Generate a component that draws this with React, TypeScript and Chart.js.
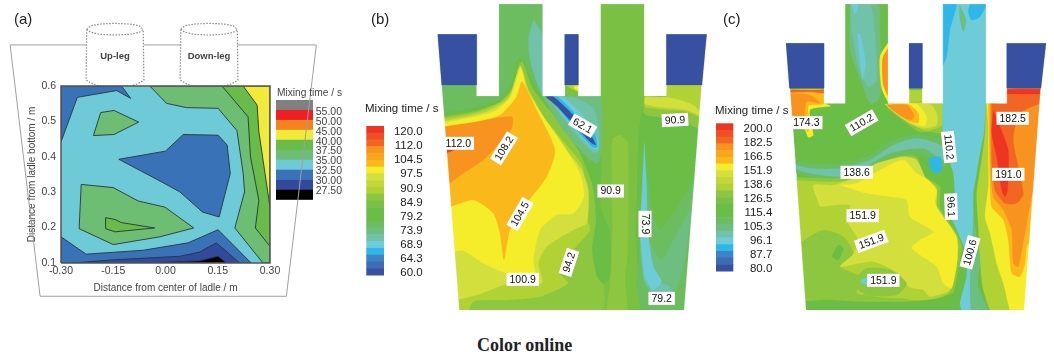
import React, { useEffect, useRef } from "react";
import { Chart, registerables } from "chart.js";
Chart.register(...registerables);

type P = [number, number];

// ---------- Shared colour names (contour levels) ----------
const R0 = "#ee3524", R1 = "#f26522", O = "#f7931e", A = "#fbb81a", Y = "#f5ec2a", LY = "#d3df3c", L = "#b0d235",
  G1 = "#8dc63f", G2 = "#7ac143", G3 = "#6abd45", G4 = "#6bbd5f", G5 = "#6ebe80", T1 = "#70c2a8", T2 = "#6ecbd8",
  S = "#2fb7ea", B1 = "#3c85c5", B2 = "#3b6cb4", B3 = "#3750a2", W = "#ffffff";

// ---------- Panel (a): metres ----------
const aXTicks = [-0.3, -0.15, 0, 0.15, 0.3];
const aLegendLevels = ["55.00", "50.00", "45.00", "40.00", "37.50", "35.00", "32.50", "30.00", "27.50"];
const aLegendColors = ["#808080", "#ee2024", "#f58220", "#f2ea3a", "#69bb4a", "#6dbd72", "#6ecad6", "#3a72b8", "#33499d", "#000000"];
const aPlot: P[] = [[-0.3, 0.1], [0.3, 0.1], [0.3, 0.6], [-0.3, 0.6], [-0.3, 0.1]];
const aTopLeftBlue: P[] = [[-0.3, 0.6], [-0.126, 0.6], [-0.1, 0.565], [-0.14, 0.587], [-0.253, 0.568], [-0.3, 0.442]];
const aUpperGreen: P[] = [[-0.186, 0.525], [-0.148, 0.531], [-0.077, 0.498], [-0.148, 0.463], [-0.207, 0.46]];
const aRightGreen: P[] = [[-0.045, 0.6], [0.003, 0.551], [0.06, 0.539], [0.151, 0.537], [0.205, 0.474], [0.223, 0.353], [0.227, 0.301], [0.199, 0.199], [0.28, 0.1], [0.3, 0.1], [0.3, 0.6]];
const aRightGreen2: P[] = [[0.162, 0.6], [0.237, 0.513], [0.244, 0.4], [0.268, 0.277], [0.258, 0.199], [0.3, 0.147], [0.3, 0.6]];
const aRightYellow: P[] = [[0.223, 0.6], [0.263, 0.546], [0.268, 0.471], [0.3, 0.258], [0.3, 0.6]];
const aCenterBlue: P[] = [[-0.134, 0.393], [0, 0.416], [0.051, 0.463], [0.151, 0.461], [0.177, 0.433], [0.186, 0.353], [0.154, 0.23], [0.106, 0.244], [0.041, 0.301], [-0.011, 0.329]];
const aLowerGreen: P[] = [[-0.242, 0.322], [-0.15, 0.313], [-0.078, 0.275], [-0.002, 0.258], [0.081, 0.199], [-0.016, 0.174], [-0.15, 0.152], [-0.248, 0.197]];
const aLowerGreen2: P[] = [[-0.172, 0.228], [-0.145, 0.223], [-0.126, 0.214], [-0.031, 0.199], [-0.145, 0.188], [-0.172, 0.197]];
const aBottomBlue: P[] = [[-0.3, 0.174], [-0.228, 0.125], [-0.064, 0.136], [0.065, 0.157], [0.151, 0.194], [0.246, 0.1], [-0.3, 0.1]];
const aBottomBlue2: P[] = [[-0.269, 0.1], [-0.15, 0.109], [0.041, 0.119], [0.098, 0.131], [0.146, 0.157], [0.213, 0.1]];
const aBottomBlack: P[] = [[-0.064, 0.1], [0.098, 0.106], [0.151, 0.119], [0.175, 0.1]];
const aLadleLeft: P[] = [[-0.228, 0.716], [-0.446, 0.716], [-0.36, 0.006], [0.347, 0.006], [0.433, 0.716], [0.206, 0.716]];
const aLadleMid: P[] = [[-0.062, 0.716], [0.044, 0.716]];
const aUpRim: P[] = [[-0.226, 0.76], [-0.215, 0.77], [-0.188, 0.775], [-0.145, 0.777], [-0.102, 0.775], [-0.075, 0.77], [-0.064, 0.76], [-0.075, 0.752], [-0.102, 0.746], [-0.145, 0.744], [-0.188, 0.746], [-0.215, 0.752], [-0.226, 0.76]];
const aUpBody: P[] = [[-0.226, 0.76], [-0.228, 0.617], [-0.21, 0.606], [-0.19, 0.6], [-0.1, 0.6], [-0.08, 0.606], [-0.062, 0.617], [-0.064, 0.76]];
const aDownRim: P[] = [[0.044, 0.76], [0.055, 0.77], [0.082, 0.775], [0.125, 0.777], [0.168, 0.775], [0.195, 0.77], [0.206, 0.76], [0.195, 0.752], [0.168, 0.746], [0.125, 0.744], [0.082, 0.746], [0.055, 0.752], [0.044, 0.76]];
const aDownBody: P[] = [[0.044, 0.76], [0.042, 0.617], [0.06, 0.606], [0.08, 0.6], [0.17, 0.6], [0.19, 0.606], [0.208, 0.617], [0.206, 0.76]];
const aLegLabels: [string, number, number][] = [["Up-leg", -0.145, 0.683], ["Down-leg", 0.125, 0.683]];

// ---------- Panel (b): schematic section units ----------
const bLegendLevels = ["120.0", "112.0", "104.5", "97.5", "90.9", "84.9", "79.2", "73.9", "68.9", "64.3", "60.0"];
const legendRamp = [R0, "#f04e26", R1, O, "#f9a61c", A, Y, LY, "#c2d838", L, G1, G2, G3, G3, G4, G5, T1, T2, S, B1, B2, B3];
const bDomain: P[] = [[233, 103], [350, 103], [350, 288], [416, 288], [416, 12], [548, 12], [548, 288], [614, 288], [614, 103], [655, 103], [655, 288], [721, 288], [721, 12], [853, 12], [853, 288], [919, 288], [919, 103], [1040, 103], [1025, 255], [972, 930], [298, 930], [245, 255], [233, 103]];
const bBlueL: P[] = [[233, 103], [350, 103], [350, 255], [245, 255]];
const bBlueM: P[] = [[614, 103], [655, 103], [655, 255], [614, 255]];
const bBlueR: P[] = [[919, 103], [1040, 103], [1026, 255], [919, 255]];
const bMaskTop: P[] = [[0, 0], [1060, 0], [1060, 12], [0, 12]];
const bMaskLeft: P[] = [[0, 0], [416, 0], [416, 288], [350, 288], [350, 103], [233, 103], [245, 255], [300, 960], [0, 960]];
const bMaskMid: P[] = [[548, 0], [721, 0], [721, 288], [655, 288], [655, 103], [614, 103], [614, 288], [548, 288]];
const bMaskRight: P[] = [[853, 0], [1060, 0], [1060, 960], [970, 960], [1025, 255], [1040, 103], [919, 103], [919, 288], [853, 288]];
const bMidStub: P[] = [[616, 256], [655, 256], [655, 276], [638, 268]];
const bMidSpot: P[] = [[640, 258], [655, 258], [655, 272], [646, 268]];
const bRightLower: P[] = [[853, 288], [1060, 255], [1060, 960], [845, 960], [828, 720], [835, 400]];
const bTopRightG1: P[] = [[853, 288], [919, 288], [919, 255], [1060, 255], [1060, 390], [1016, 385], [960, 362], [900, 352], [853, 342]];
const bTopRightL: P[] = [[919, 256], [1060, 256], [1060, 355], [1018, 350], [980, 335], [920, 330], [880, 325], [855, 320], [855, 290], [919, 290]];
const bTopRightLY: P[] = [[855, 292], [919, 292], [960, 300], [1000, 315], [1015, 330], [1018, 345], [980, 330], [900, 322], [855, 312]];
const bPlumeG4: P[] = [[850, 450], [865, 550], [880, 640], [900, 690], [940, 640], [1005, 540], [980, 790], [975, 960], [860, 960], [830, 860], [840, 750], [845, 550]];
const bPlumeG5: P[] = [[845, 670], [880, 750], [905, 780], [940, 720], [992, 630], [978, 760], [955, 850], [940, 880], [880, 880], [855, 840], [840, 760]];
const bPlumeT1: P[] = [[845, 720], [865, 800], [890, 845], [920, 855], [930, 860], [930, 892], [880, 880], [852, 840], [845, 760]];
const bPlumeStreak: P[] = [[853, 425], [860, 560], [862, 660], [868, 730], [880, 800], [905, 845], [880, 870], [855, 830], [840, 700], [847, 560]];
const bColumnG1: P[] = [[755, 440], [760, 415], [780, 405], [803, 430], [803, 760], [795, 830], [800, 960], [740, 960], [750, 850], [757, 700]];
const bTopLeftG4: P[] = [[220, 255], [350, 255], [350, 288], [416, 288], [416, 12], [548, 12], [548, 288], [525, 300], [300, 400], [220, 400]];
const bSnorkelTeal: P[] = [[520, 58], [535, 80], [548, 110], [548, 285], [515, 200], [505, 120]];
const bRim: P[] = [[218, 345], [350, 322], [418, 298], [452, 255], [472, 180], [490, 178], [515, 240], [555, 300], [620, 385], [680, 470], [712, 560], [720, 640], [725, 800], [700, 960], [260, 960]];
const bBodyG1: P[] = [[220, 355], [350, 332], [420, 305], [458, 260], [478, 190], [488, 185], [520, 268], [600, 370], [660, 460], [698, 560], [712, 660], [700, 780], [730, 850], [720, 960], [260, 960]];
const bBodyL: P[] = [[220, 362], [350, 337], [425, 305], [465, 260], [481, 195], [505, 265], [555, 355], [615, 430], [668, 500], [680, 650], [690, 690], [640, 750], [600, 820], [625, 850], [540, 890], [440, 900], [340, 905], [315, 960], [260, 960]];
const bBodyLY: P[] = [[221, 370], [380, 335], [445, 295], [481, 198], [505, 275], [555, 365], [612, 440], [665, 510], [685, 570], [680, 670], [640, 690], [560, 740], [535, 790], [545, 850], [440, 852], [350, 885], [240, 895]];
const bBodyY: P[] = [[221, 375], [400, 335], [452, 290], [482, 205], [500, 265], [550, 350], [600, 420], [660, 520], [672, 590], [640, 640], [590, 645], [540, 690], [520, 780], [525, 825], [440, 820], [370, 790], [310, 752], [230, 755]];
const bBodyA: P[] = [[220, 385], [330, 370], [420, 345], [470, 290], [486, 245], [530, 330], [585, 450], [560, 530], [500, 610], [450, 690], [432, 780], [420, 700], [400, 640], [340, 600], [230, 625]];
const bBodyO: P[] = [[221, 385], [350, 365], [455, 350], [455, 385], [400, 450], [370, 480], [310, 520], [230, 570]];
const bBodyR: P[] = [[230, 435], [285, 448], [230, 465]];
const bDarkStripe: P[] = [[690, 480], [722, 470], [722, 620], [750, 700], [750, 830], [730, 850], [712, 830], [697, 750], [708, 660], [700, 560]];
const bStreakG5: P[] = [[548, 288], [655, 288], [722, 290], [722, 465], [712, 490], [680, 470], [610, 390], [575, 335]];
const bStreakT1: P[] = [[565, 292], [640, 292], [700, 325], [716, 380], [716, 452], [700, 458], [640, 395], [600, 340]];
const bStreakT2: P[] = [[562, 291], [610, 292], [680, 360], [714, 420], [714, 447], [700, 447], [640, 385], [590, 325]];
const bStreakS: P[] = [[560, 290], [592, 290], [640, 335], [705, 405], [712, 441], [698, 442], [640, 378], [590, 320]];
const bStreakB: P[] = [[557, 290], [580, 290], [640, 345], [695, 410], [708, 435], [695, 430], [640, 372], [590, 318]];
const bLabels: [string, number, number, number][] = [["112.0", 295, 430, 0], ["108.2", 432, 445, -58], ["62.1", 668, 377, 30], ["90.9", 945, 360, -3], ["90.9", 752, 573, 0], ["73.9", 855, 672, 90], ["104.5", 480, 642, -60], ["94.2", 627, 787, -72], ["100.9", 488, 838, 0], ["79.2", 905, 895, 0]];

// ---------- Panel (c): schematic section units ----------
const cLegendLevels = ["200.0", "182.5", "166.5", "151.9", "138.6", "126.5", "115.4", "105.3", "96.1", "87.7", "80.0"];
const cDomain: P[] = [[228, 130], [342, 130], [342, 310], [405, 310], [405, 12], [534, 12], [534, 310], [597, 310], [597, 130], [637, 130], [637, 310], [698, 310], [698, 12], [828, 12], [828, 310], [890, 310], [890, 130], [1008, 130], [992, 265], [942, 930], [290, 930], [240, 265], [228, 130]];
const cBlueL: P[] = [[228, 130], [342, 130], [342, 265], [238, 265]];
const cBlueM: P[] = [[597, 130], [637, 130], [637, 265], [597, 265]];
const cBlueR: P[] = [[890, 130], [1008, 130], [993, 265], [890, 265]];
const cMaskTop: P[] = [[0, 0], [1040, 0], [1040, 12], [0, 12]];
const cMaskLeft: P[] = [[0, 0], [405, 0], [405, 310], [342, 310], [342, 130], [228, 130], [240, 265], [290, 960], [0, 960]];
const cMaskMid: P[] = [[534, 0], [698, 0], [698, 310], [637, 310], [637, 130], [597, 130], [597, 310], [534, 310]];
const cMaskRight: P[] = [[828, 0], [1040, 0], [1040, 960], [940, 960], [992, 265], [1008, 130], [890, 130], [890, 310], [828, 310]];
const cStub: P[] = [[597, 270], [637, 270], [637, 310], [597, 310]];
const cCornerY: P[] = [[220, 270], [342, 270], [342, 308], [362, 318], [300, 330], [310, 405], [295, 412], [280, 380], [225, 360]];
const cCornerA: P[] = [[220, 272], [340, 272], [342, 290], [340, 312], [295, 318], [300, 380], [292, 395], [275, 360], [225, 352]];
const cCornerO: P[] = [[220, 280], [300, 285], [330, 310], [290, 305], [280, 350], [220, 345]];
const cCornerR: P[] = [[220, 269], [342, 269], [342, 280], [300, 275], [220, 278]];
const cSnorkelG5: P[] = [[420, 12], [505, 12], [510, 100], [515, 250], [505, 300], [480, 310], [455, 250], [420, 150]];
const cSnorkelT1: P[] = [[420, 12], [480, 12], [495, 100], [500, 240], [475, 260], [445, 200], [425, 90]];
const cSnorkelT2A: P[] = [[425, 14], [445, 14], [436, 42]];
const cSnorkelT2B: P[] = [[442, 100], [452, 105], [467, 190], [458, 240], [450, 190]];
const cWallY: P[] = [[540, 120], [510, 170], [515, 265], [540, 312]];
const cWallO: P[] = [[540, 135], [518, 175], [520, 255], [540, 295]];
const cSpotG1: P[] = [[534, 310], [698, 310], [698, 400], [660, 395], [625, 395], [590, 370], [534, 325]];
const cSpotL: P[] = [[534, 310], [698, 312], [696, 375], [650, 392], [610, 375], [570, 350], [534, 322]];
const cSpotLY: P[] = [[534, 310], [660, 312], [680, 340], [680, 375], [640, 385], [600, 370], [550, 335]];
const cSpotY: P[] = [[525, 312], [620, 312], [650, 350], [645, 378], [610, 370], [570, 345], [535, 322]];
const cSpotA: P[] = [[528, 313], [595, 313], [625, 340], [625, 368], [595, 362], [560, 338]];
const cSpotO: P[] = [[530, 315], [590, 315], [612, 345], [605, 360], [580, 352], [550, 332]];
const cRibbonG5: P[] = [[240, 480], [300, 490], [390, 492], [470, 470], [540, 425], [620, 402], [702, 425], [705, 500], [640, 465], [540, 475], [450, 525], [390, 540], [300, 530], [240, 510]];
const cRibbonT1: P[] = [[240, 490], [300, 505], [390, 505], [480, 480], [550, 435], [620, 415], [700, 440], [700, 480], [640, 445], [540, 460], [450, 510], [390, 530], [300, 520], [240, 500]];
const cSkySpot: P[] = [[655, 475], [690, 470], [695, 510], [675, 520], [660, 500]];
const cLowerG1: P[] = [[240, 530], [390, 535], [460, 515], [560, 470], [620, 470], [640, 525], [690, 560], [690, 620], [740, 700], [755, 740], [735, 860], [725, 900], [690, 960], [260, 960]];
const cLowerL: P[] = [[240, 540], [390, 545], [470, 525], [565, 480], [615, 475], [640, 535], [680, 560], [680, 620], [730, 695], [745, 740], [725, 860], [715, 880], [660, 900], [600, 900], [500, 890], [440, 880], [380, 860], [340, 800], [300, 760], [250, 730]];
const cLowerLY: P[] = [[330, 620], [420, 615], [410, 660], [445, 720], [430, 760], [390, 800], [490, 785], [565, 820], [595, 860], [640, 870], [660, 890], [700, 880], [720, 870], [740, 750], [730, 700], [680, 620], [680, 570], [650, 540], [620, 480], [580, 470], [500, 490], [440, 530], [370, 555], [310, 555]];
const cLowerY: P[] = [[390, 555], [440, 550], [510, 510], [580, 480], [620, 520], [655, 540], [680, 570], [675, 610], [700, 650], [740, 710], [742, 780], [725, 865], [700, 850], [680, 800], [605, 745], [630, 720], [670, 695], [600, 650], [590, 600], [540, 590], [470, 580]];
const cLeftPatch: P[] = [[260, 735], [340, 690], [400, 710], [430, 760], [390, 800], [450, 830], [440, 890], [600, 900], [600, 960], [260, 960]];
const cBottomRing: P[] = [[420, 850], [470, 805], [540, 810], [590, 850], [560, 885], [470, 885]];
const cGreenSpot: P[] = [[365, 770], [385, 735], [400, 745], [385, 780]];
const cBottomG3: P[] = [[270, 905], [350, 900], [440, 905], [600, 905], [690, 895], [735, 880], [725, 960], [270, 960]];
const cTealSpot: P[] = [[450, 840], [485, 830], [485, 855], [455, 850]];
const cChannel: P[] = [[698, 0], [828, 0], [828, 310], [822, 400], [810, 460], [800, 520], [790, 580], [790, 650], [800, 720], [805, 760], [800, 820], [795, 860], [825, 960], [765, 960], [750, 910], [770, 830], [770, 760], [745, 700], [720, 640], [735, 590], [730, 520], [715, 470], [698, 400], [698, 310]];
const cChannelLow: P[] = [[790, 650], [800, 720], [810, 780], [805, 860], [845, 960], [790, 960], [780, 860], [785, 760]];
const cSkyA: P[] = [[695, 5], [740, 5], [720, 90], [710, 170], [695, 200]];
const cSkyB: P[] = [[782, 5], [830, 5], [810, 50], [785, 60], [775, 35]];
const cStreak: P[] = [[748, 12], [768, 60], [760, 95], [750, 60]];
const cPlumeL: P[] = [[828, 310], [890, 310], [890, 270], [1040, 270], [1040, 960], [860, 960], [820, 870], [810, 780], [805, 680], [800, 580], [815, 480], [825, 400]];
const cPlumeY: P[] = [[830, 310], [890, 310], [890, 268], [1040, 268], [1040, 960], [915, 960], [880, 850], [860, 790], [840, 700], [825, 650], [835, 560], [835, 450], [835, 380]];
const cPlumeA: P[] = [[835, 310], [890, 310], [890, 268], [1040, 268], [1040, 700], [955, 730], [945, 790], [930, 830], [905, 820], [895, 720], [880, 660], [845, 620], [840, 550], [838, 450]];
const cPlumeO: P[] = [[840, 310], [890, 310], [890, 268], [1040, 268], [1040, 500], [975, 560], [945, 700], [925, 800], [910, 790], [905, 690], [880, 630], [850, 590], [842, 500]];
const cPlumeR1: P[] = [[845, 310], [890, 310], [890, 270], [1040, 270], [1040, 290], [930, 340], [910, 420], [940, 580], [920, 610], [885, 610], [855, 570], [845, 480]];
const cPlumeR0Top: P[] = [[890, 268], [1040, 268], [1040, 282], [890, 282]];
const cPlumeR0: P[] = [[850, 330], [870, 380], [895, 450], [893, 570], [885, 590], [875, 570], [860, 470], [845, 400]];
const cLabels: [string, number, number, number][] = [["174.3", 289, 368, 0], ["110.2", 455, 368, -30], ["110.2", 717, 441, 84], ["138.6", 440, 517, 0], ["96.1", 723, 620, 88], ["151.9", 458, 647, 0], ["151.9", 484, 724, -20], ["100.6", 780, 757, -75], ["151.9", 520, 841, 0], ["191.0", 895, 523, 0], ["182.5", 908, 355, 0]];

const FONT = '"Liberation Sans", Arial, sans-serif';
const toXY = (p: P[]) => p.map(([x, y]) => ({ x, y }));

function area(points: P[], color: string, tension = 0.22, line?: string) {
  return { data: toXY([...points, points[0]]), showLine: true, fill: "shape" as const, backgroundColor: color,
    borderColor: line ?? color, borderWidth: line ? 0.9 : 0.2, tension, pointRadius: 0 };
}
function stroke(points: P[], color: string, width: number, dash: number[] = []) {
  return { data: toXY(points), showLine: true, fill: false, borderColor: color, borderWidth: width, borderDash: dash,
    tension: 0, pointRadius: 0, clip: false as const };
}
function withOrder(list: any[]) { return list.map((d, i) => ({ ...d, order: list.length - i })); }

function sectionChart(canvas: HTMLCanvasElement, w: number, datasets: any[], labels: [string, number, number, number][], levels: string[], lg: any, tag: string, tagX: number) {
  const plugin = {
    id: "sectionText",
    afterDatasetsDraw(chart: any) {
      const { ctx, scales: { x, y } } = chart;
      ctx.save();
      const h = lg.bottom - lg.top, n = legendRamp.length;
      legendRamp.forEach((c, i) => { ctx.fillStyle = c; ctx.fillRect(lg.left, lg.top + (h * i) / n, lg.width, h / n + 0.5); });
      ctx.fillStyle = "#222"; ctx.font = `11.5px ${FONT}`; ctx.textBaseline = "middle"; ctx.textAlign = "right";
      levels.forEach((t, i) => ctx.fillText(t, lg.textRight, lg.firstY + i * lg.stepY));
      ctx.textAlign = "left"; ctx.fillText("Mixing time / s", lg.titleX, lg.titleY);
      ctx.font = `15px ${FONT}`; ctx.fillText(tag, tagX, 20);
      ctx.font = `10.5px ${FONT}`; ctx.textAlign = "center";
      labels.forEach(([t, vx, vy, deg]) => {
        const bw = ctx.measureText(t).width + 6;
        ctx.save(); ctx.translate(x.getPixelForValue(vx), y.getPixelForValue(vy)); ctx.rotate((deg * Math.PI) / 180);
        ctx.fillStyle = "#fff"; ctx.fillRect(-bw / 2, -6.5, bw, 13);
        ctx.fillStyle = "#111"; ctx.fillText(t, 0, 0.5); ctx.restore();
      });
      ctx.restore();
    },
  };
  return new Chart(canvas, {
    type: "scatter",
    data: { datasets: withOrder(datasets) },
    options: {
      animation: false, responsive: false, events: [],
      layout: { padding: 0 },
      plugins: { legend: { display: false }, tooltip: { enabled: false } },
      scales: {
        x: { type: "linear", min: 0, max: w * 3, display: false },
        y: { type: "linear", min: 0, max: 930, reverse: true, display: false },
      },
    },
    plugins: [plugin],
  });
}

function panelA(canvas: HTMLCanvasElement) {
  const axisFont = { family: FONT, size: 10.5 };
  const contour = "#27363a";
  const sets = [
    stroke(aLadleLeft, "#a0a0a0", 1), stroke(aLadleMid, "#a0a0a0", 1),
    stroke(aUpRim, "#8a8a8a", 1.2, [1.5, 1.5]), stroke(aUpBody, "#8a8a8a", 1.2, [1.5, 1.5]),
    stroke(aDownRim, "#8a8a8a", 1.2, [1.5, 1.5]), stroke(aDownBody, "#8a8a8a", 1.2, [1.5, 1.5]),
    area(aPlot, "#6ecad6", 0),
    area(aTopLeftBlue, "#3a72b8", 0, contour), area(aUpperGreen, "#6dbd72", 0, contour),
    area(aRightGreen, "#6dbd72", 0, contour), area(aRightGreen2, "#69bb4a", 0, contour), area(aRightYellow, "#f2ea3a", 0, contour),
    area(aCenterBlue, "#3a72b8", 0, contour), area(aLowerGreen, "#6dbd72", 0, contour), area(aLowerGreen2, "#69bb4a", 0, contour),
    area(aBottomBlue, "#3a72b8", 0, contour), area(aBottomBlue2, "#33499d", 0, contour), area(aBottomBlack, "#000000", 0, contour),
    stroke(aPlot, "#555", 1.5),
  ];
  const plugin = {
    id: "panelAText",
    beforeDatasetsDraw(chart: any) {
      const { ctx } = chart;
      const top = 100, sw = 9.95;
      aLegendColors.forEach((c, i) => { ctx.fillStyle = c; ctx.fillRect(276, top + i * sw, 37, sw + 0.3); });
    },
    afterDatasetsDraw(chart: any) {
      const { ctx, scales: { x, y } } = chart;
      ctx.save();
      ctx.fillStyle = "#444"; ctx.textBaseline = "middle";
      ctx.font = `10.5px ${FONT}`; ctx.textAlign = "right";
      aLegendLevels.forEach((t, i) => ctx.fillText(t, 342, 111.8 + i * 9.95));
      ctx.textAlign = "left"; ctx.font = `10.2px ${FONT}`; ctx.fillText("Mixing time / s", 277, 93);
      ctx.font = `bold 9.5px ${FONT}`; ctx.textAlign = "center";
      aLegLabels.forEach(([t, vx, vy]) => ctx.fillText(t, x.getPixelForValue(vx), y.getPixelForValue(vy)));
      ctx.fillStyle = "#222"; ctx.font = `15px ${FONT}`; ctx.textAlign = "left"; ctx.fillText("(a)", 14, 20);
      ctx.restore();
    },
  };
  return new Chart(canvas, {
    type: "scatter",
    data: { datasets: withOrder(sets) },
    options: {
      animation: false, responsive: false, events: [],
      layout: { padding: { top: 86, right: 80, left: 0, bottom: 0 } },
      plugins: { legend: { display: false }, tooltip: { enabled: false } },
      scales: {
        x: {
          type: "linear", min: -0.3, max: 0.3, grid: { display: false, drawTicks: false }, border: { display: false },
          afterBuildTicks: (s: any) => { s.ticks = aXTicks.map((value) => ({ value })); },
          afterFit: (s: any) => { s.height = 47; },
          ticks: { color: "#444", font: axisFont, padding: 2, maxRotation: 0, autoSkip: false, callback: (v: any) => Number(v).toFixed(2) },
          title: { display: true, text: "Distance from center of ladle / m", color: "#444", font: { family: FONT, size: 10 }, padding: { top: 3, bottom: 16 } },
        },
        y: {
          type: "linear", min: 0.1, max: 0.6, grid: { display: false, drawTicks: false }, border: { display: false },
          afterFit: (s: any) => { s.width = 61; },
          ticks: { color: "#444", font: axisFont, padding: 5, stepSize: 0.1, callback: (v: any) => Number(v).toFixed(1) },
          title: { display: true, text: "Distance from ladle bottom / m", color: "#444", font: { family: FONT, size: 10 }, padding: { top: 26, bottom: 0 } },
        },
      },
    },
    plugins: [plugin],
  });
}

const bDatasets = () => [
  area(bDomain, G2, 0), area(bMidStub, L), area(bMidSpot, Y),
  area(bRightLower, G3, 0), area(bTopRightG1, G1), area(bTopRightL, L), area(bTopRightLY, LY),
  area(bPlumeG4, G4), area(bPlumeG5, G5), area(bPlumeT1, T1), area(bPlumeStreak, T2),
  area(bColumnG1, G1), area(bTopLeftG4, G4, 0), area(bSnorkelTeal, T1),
  area(bRim, G3), area(bBodyG1, G1), area(bDarkStripe, G3), area(bBodyL, L), area(bBodyLY, LY), area(bBodyY, Y), area(bBodyA, A), area(bBodyO, O), area(bBodyR, R0),
  area(bStreakG5, G5), area(bStreakT1, T1), area(bStreakT2, T2), area(bStreakS, S), area(bStreakB, B3),
  area(bMaskTop, W, 0), area(bMaskLeft, W, 0), area(bMaskMid, W, 0), area(bMaskRight, W, 0),
  area(bBlueL, B3, 0), area(bBlueM, B3, 0), area(bBlueR, B3, 0),
];
const cDatasets = () => [
  area(cDomain, G3, 0), area(cStub, L, 0),
  area(cCornerY, Y), area(cCornerA, A), area(cCornerO, O), area(cCornerR, R1, 0),
  area(cSnorkelG5, G5), area(cSnorkelT1, T1), area(cSnorkelT2A, T2), area(cSnorkelT2B, T2), area(cWallY, Y), area(cWallO, O),
  area(cSpotG1, G1), area(cSpotL, L), area(cSpotLY, LY), area(cSpotY, Y), area(cSpotA, A), area(cSpotO, O),
  area(cRibbonG5, G4), area(cRibbonT1, T1), area(cSkySpot, S),
  area(cLowerG1, G1), area(cLowerL, L), area(cLowerLY, LY), area(cLowerY, Y), area(cLeftPatch, G1), area(cBottomRing, G1), area(cGreenSpot, G3), area(cBottomG3, G3), area(cTealSpot, T2),
  area(cPlumeL, L), area(cPlumeY, Y), area(cPlumeA, A), area(cPlumeO, O), area(cPlumeR1, R1), area(cPlumeR0Top, R0, 0), area(cPlumeR0, R0),
  area(cChannel, T2, 0.1), area(cChannelLow, G5), area(cSkyA, S), area(cSkyB, S), area(cStreak, G5),
  area(cMaskTop, W, 0), area(cMaskLeft, W, 0), area(cMaskMid, W, 0), area(cMaskRight, W, 0),
  area(cBlueL, B3, 0), area(cBlueM, B3, 0), area(cBlueR, B3, 0),
];

const canvasStyle = (left: number): React.CSSProperties => ({ position: "absolute", left, top: 0, filter: "blur(0.4px)" });

export default function App() {
  const a = useRef<HTMLCanvasElement>(null);
  const b = useRef<HTMLCanvasElement>(null);
  const c = useRef<HTMLCanvasElement>(null);
  useEffect(() => {
    const charts = [
      panelA(a.current!),
      sectionChart(b.current!, 350, bDatasets(), bLabels, bLegendLevels,
        { left: 6.3, width: 17.7, top: 126, bottom: 275, textRight: 62.7, firstY: 131.7, stepY: 14.16, titleX: 5, titleY: 109.3 }, "(b)", 11),
      sectionChart(c.current!, 344, cDatasets(), cLabels, cLegendLevels,
        { left: 6, width: 17.3, top: 123.3, bottom: 271, textRight: 62.3, firstY: 129, stepY: 14.03, titleX: 5, titleY: 110.7 }, "(c)", 13),
    ];
    return () => charts.forEach((ch) => ch.destroy());
  }, []);
  return (
    <div style={{ position: "absolute", left: 0, top: 0, width: 1054, height: 357, background: "#fff", overflow: "hidden" }}>
      <canvas ref={a} width={350} height={310} style={canvasStyle(0)} />
      <canvas ref={b} width={350} height={310} style={canvasStyle(360)} />
      <canvas ref={c} width={344} height={310} style={canvasStyle(710)} />
      <div style={{ position: "absolute", left: 477, top: 335, font: 'bold 18px/21px "Liberation Serif", serif', color: "#222" }}>Color online</div>
    </div>
  );
}
